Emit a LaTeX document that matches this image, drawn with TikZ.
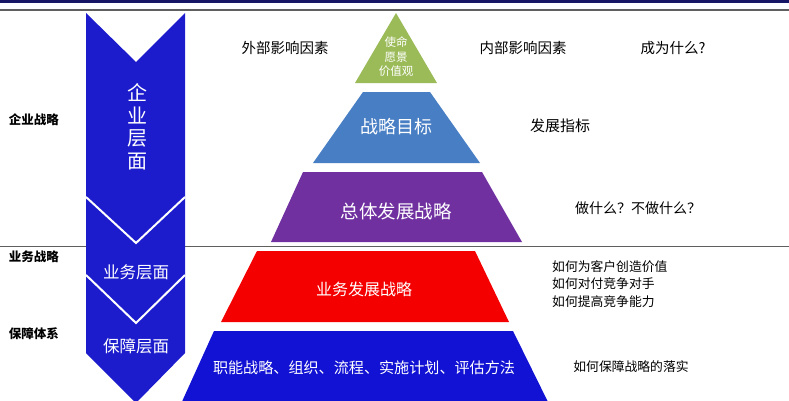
\documentclass[tikz,border=0pt]{standalone}
\usepackage{fontspec}
\setmainfont{Noto Sans CJK SC}
\definecolor{chevblue}{RGB}{28,28,205}
\definecolor{basblue}{RGB}{18,18,212}
\definecolor{tiergreen}{RGB}{155,187,89}
\definecolor{tiersteel}{RGB}{72,126,196}
\definecolor{tierpurple}{RGB}{112,48,160}
\definecolor{tierred}{RGB}{244,0,0}
\definecolor{navyband}{RGB}{22,22,100}
\definecolor{rulegray}{RGB}{95,95,95}
\tikzset{
  wt/.style={text=white,inner sep=0pt,align=center},
  bt/.style={text=black,inner sep=0pt,align=left},
  sidelab/.style={text=black,inner sep=0pt,font=\bfseries\fontsize{12.5}{14}\selectfont},
  divline/.style={draw=white,line width=2pt},
}
\begin{document}
\begin{tikzpicture}[x=1pt,y=-1pt]
\clip (0,0) rectangle (789,400);
\fill[white] (0,0) rectangle (789,400);
% top band and rules
\fill[navyband] (0,0) rectangle (789,2.6);
\draw[rulegray,line width=1.3pt] (0,10) -- (789,10);
\draw[rulegray,line width=1pt] (0,246) -- (789,246);
% chevron column
\fill[chevblue] (86,13) -- (136,62) -- (185,13) -- (185,353) -- (136,403) -- (86,353) -- cycle;
\draw[divline] (86,197) -- (136,243) -- (185,197);
\draw[divline] (86,275) -- (136,323) -- (185,275);
\node[wt,font=\fontsize{20}{22.5}\selectfont] (qiye) at (137,127) {企\\业\\层\\面};
\node[wt,font=\fontsize{16.5}{18}\selectfont] (yewu) at (136,272) {业务层面};
\node[wt,font=\fontsize{16.5}{18}\selectfont] (baozhang) at (136,346) {保障层面};
% left labels
\node[sidelab] (l1) at (34,120) {企业战略};
\node[sidelab] (l2) at (34,257) {业务战略};
\node[sidelab] (l3) at (34,334) {保障体系};
% pyramid tiers
\fill[tiergreen] (396,13) -- (437,83) -- (355,83) -- cycle;
\fill[tiersteel] (363,92) -- (430,92) -- (480,163) -- (313,163) -- cycle;
\fill[tierpurple] (303,172) -- (482,172) -- (522,242) -- (271,242) -- cycle;
\fill[tierred] (257,251) -- (475,251) -- (509,322) -- (221,322) -- cycle;
\fill[basblue] (214,331) -- (513,331) -- (550,406) -- (180,406) -- cycle;
\node[wt,font=\fontsize{11.5}{14.5}\selectfont] (t1) at (396,57) {使命\\愿景\\价值观};
\node[wt,font=\fontsize{18}{20}\selectfont] (t2) at (396,127) {战略目标};
\node[wt,font=\fontsize{18.5}{20}\selectfont] (t3) at (396,211) {总体发展战略};
\node[wt,font=\fontsize{16}{18}\selectfont] (t4) at (364,289) {业务发展战略};
\node[wt,font=\fontsize{15.1}{18}\selectfont] (t5) at (364,368) {职能战略、组织、流程、实施计划、评估方法};
% right texts
\node[bt,font=\fontsize{14.5}{16}\selectfont] (r1) at (285,48) {外部影响因素};
\node[bt,font=\fontsize{14.5}{16}\selectfont] (r2) at (523,48) {内部影响因素};
\node[bt,font=\fontsize{14.5}{16}\selectfont] (r3) at (673,48) {成为什么?};
\node[bt,font=\fontsize{15}{16}\selectfont] (r4) at (560,126) {发展指标};
\node[bt,font=\fontsize{14}{16}\selectfont] (r5) at (638,208) {做什么？不做什么？};
\node[bt,anchor=north west,font=\fontsize{12.8}{17.8}\selectfont] (r6) at (552,260) {如何为客户创造价值\\如何对付竞争对手\\如何提高竞争能力};
\node[bt,font=\fontsize{12.8}{16}\selectfont] (r7) at (631,367) {如何保障战略的落实};
\end{tikzpicture}
\end{document}
